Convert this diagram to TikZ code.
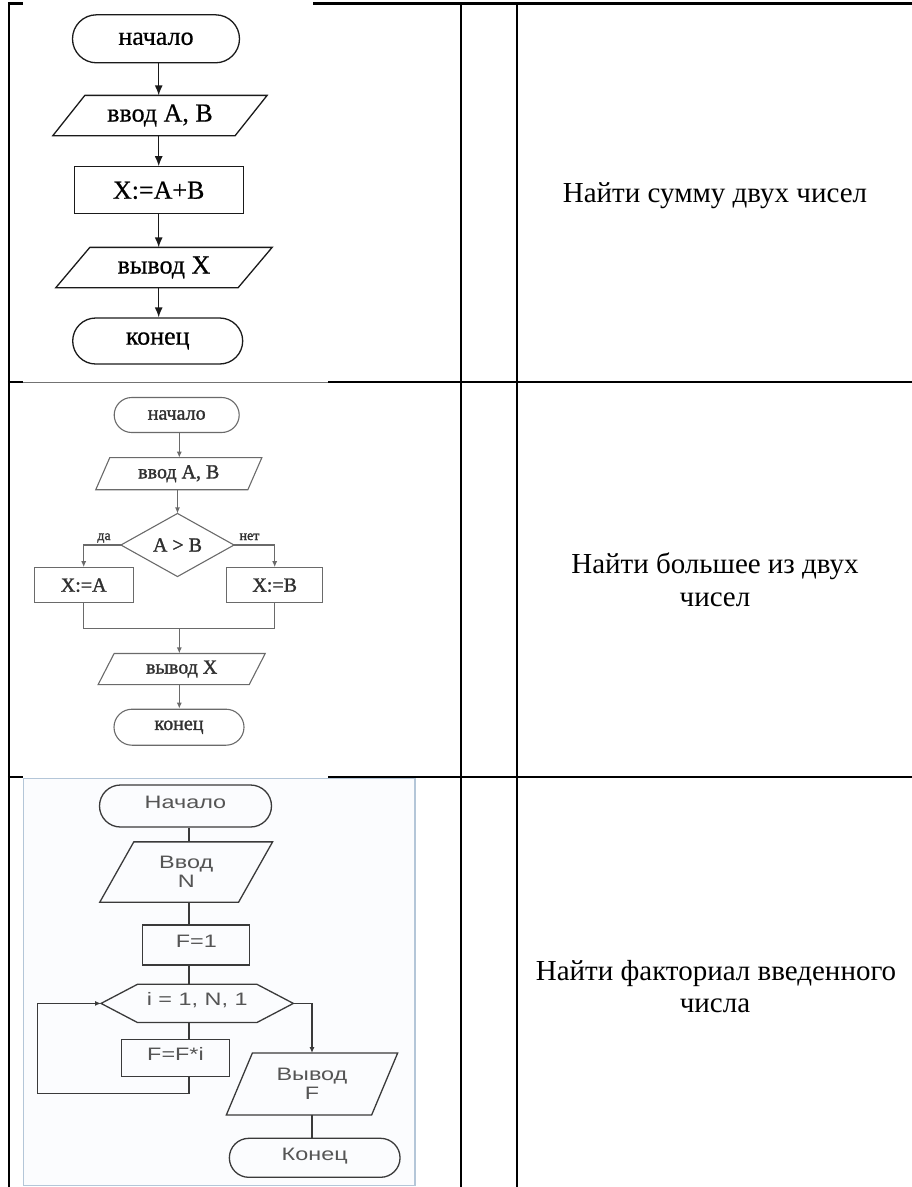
\documentclass[tikz,border=0pt]{standalone}
\usepackage{fontspec}
\setmainfont{Liberation Serif}
\newfontfamily\fcsans[FakeStretch=1.3]{Liberation Sans}
\newfontfamily\fcserifA[FakeBold=0.6]{Liberation Serif}
\newfontfamily\fcserifB[FakeBold=1.4]{Liberation Serif}
\usetikzlibrary{shapes.misc,arrows.meta,calc}
\definecolor{lineA}{HTML}{1A1A1A}
\definecolor{lineB}{HTML}{6A6A6A}
\definecolor{textB}{HTML}{303030}
\definecolor{lineC}{HTML}{3A3A3A}
\definecolor{textC}{HTML}{555555}
\definecolor{imgborder}{HTML}{B4C6D8}
\definecolor{imgfill}{HTML}{FBFCFE}
\newcommand\fcpara[3]{\draw[#3] ([xshift=-#2pt]#1.south west) -- ([xshift=#2pt]#1.north west) -- ([xshift=#2pt]#1.north east) -- ([xshift=-#2pt]#1.south east) -- cycle;}
\begin{document}
\begin{tikzpicture}[x=1pt,y=-1pt,
  tbl/.style={line width=2.2pt,black},
  cell/.style={anchor=base,inner sep=0,font=\fontsize{29}{33}\selectfont},
  boxA/.style={draw=lineA,line width=1.3pt,inner sep=0,font=\fcserifA\fontsize{26}{28}\selectfont},
  shA/.style={draw=lineA,line width=1.3pt},
  arrA/.style={draw=lineA,line width=1.3pt,-{Latex[length=10pt,width=8pt]}},
  boxB/.style={draw=lineB,line width=1.1pt,inner sep=0,text=textB,font=\fcserifB\fontsize{20}{22}\selectfont},
  shB/.style={draw=lineB,line width=1.1pt},
  arrB/.style={draw=lineB,line width=1.1pt,-{Latex[length=6pt,width=5pt]}},
  lblB/.style={anchor=base,inner sep=0,text=textB,font=\fcserifB\fontsize{14}{16}\selectfont},
  boxC/.style={draw=lineC,line width=1.3pt,inner sep=0,text=textC,font=\fcsans\fontsize{18}{19}\selectfont},
  upC/.style={text height=13pt,text depth=8pt},
  shC/.style={draw=lineC,line width=1.3pt},
  arrC/.style={draw=lineC,line width=1.3pt,-{Latex[length=6pt,width=5pt]}}
]
\useasboundingbox (0,0) rectangle (912,1187);

% ---------- table ----------
\draw[tbl] (9,2.4) -- (9,1187);
\draw[tbl] (460.7,2.4) -- (460.7,1187);
\draw[tbl] (516.7,2.4) -- (516.7,1187);
\draw[tbl] (7.9,3.5) -- (23,3.5);
\draw[tbl] (313,3.5) -- (912,3.5);
\draw[tbl] (7.9,382.3) -- (23,382.3);
\draw[line width=1.6pt,black!55] (23,382.3) -- (328,382.3);
\draw[tbl] (328,382.3) -- (912,382.3);
% image of the third flowchart
\draw[draw=imgborder,fill=imgfill,line width=1.4pt] (23.3,778.5) rectangle (415,1185.5);
\draw[tbl] (7.9,777) -- (23,777);
\draw[tbl] (328,777) -- (912,777);

% ---------- right column ----------
\node[cell] (r1) at (715,202.7) {Найти сумму двух чисел};
\node[cell] (r2a) at (715,573) {Найти большее из двух};
\node[cell] (r2b) at (715,606) {чисел};
\node[cell] (r3a) at (716,980) {Найти факториал введенного};
\node[cell] (r3b) at (715,1012) {числа};

% ---------- flowchart 1 ----------
\node[boxA,rounded rectangle,minimum width=167pt,minimum height=48pt] (s1) at (156,38.8) {начало};
\node[boxA,draw=none,minimum width=181pt,minimum height=39pt] (in1) at (160,115.5) {ввод A, B};
\fcpara{in1}{16}{shA}
\node[boxA,minimum width=169pt,minimum height=47pt] (p1) at (158.7,190.3) {X:=A+B};
\node[boxA,draw=none,minimum width=181pt,minimum height=39pt] (out1) at (164,267.5) {вывод X};
\fcpara{out1}{17}{shA}
\node[boxA,rounded rectangle,minimum width=170pt,minimum height=46pt] (e1) at (157.7,341) {конец};
\draw[arrA] (s1.south -| p1.center) -- (in1.north -| p1.center);
\draw[arrA] (in1.south -| p1.center) -- (p1.north);
\draw[arrA] (p1.south) -- (out1.north -| p1.center);
\draw[arrA] (out1.south -| p1.center) -- (e1.north -| p1.center);

% ---------- flowchart 2 ----------
\node[boxB,rounded rectangle,minimum width=125pt,minimum height=35pt] (s2) at (176.7,415) {начало};
\node[boxB,draw=none,minimum width=151pt,minimum height=31pt] (in2) at (178.8,473.7) {ввод A, B};
\fcpara{in2}{7}{shB}
\node[boxB,draw=none,minimum width=112pt,minimum height=62pt] (d2) at (177.5,545) {A > B};
\draw[shB] (d2.north) -- (d2.east) -- (d2.south) -- (d2.west) -- cycle;
\node[boxB,minimum width=99pt,minimum height=35pt] (ra) at (83.7,585.2) {X:=A};
\node[boxB,minimum width=96pt,minimum height=35pt] (rb) at (274.7,585.2) {X:=B};
\coordinate (j2) at (179.3,628.3);
\node[boxB,draw=none,minimum width=150pt,minimum height=30pt] (out2) at (181.7,669) {вывод X};
\fcpara{out2}{8}{shB}
\node[boxB,rounded rectangle,minimum width=130pt,minimum height=36pt] (e2) at (179,727.2) {конец};
\node[lblB] (lda) at (104,540) {да};
\node[lblB] (lnet) at (249.5,540) {нет};
\draw[arrB] (s2.south -| j2) -- (in2.north -| j2);
\draw[arrB] (in2.south -| d2.north) -- (d2.north);
\draw[arrB] (d2.west) -| (ra.north);
\draw[arrB] (d2.east) -| (rb.north);
\draw[shB] (ra.south) |- (j2) -| (rb.south);
\draw[arrB] (j2) -- (out2.north -| j2);
\draw[arrB] (out2.south -| j2) -- (e2.north -| j2);

% ---------- flowchart 3 ----------
\coordinate (cx) at (189,0);
\coordinate (lp) at (37.3,1093.3);
\node[boxC,upC,rounded rectangle,minimum width=172pt,minimum height=42pt] (s3) at (185.5,806) {Начало};
\node[boxC,draw=none,align=center,minimum width=137.5pt,minimum height=59pt] (in3) at (186.2,872) {Ввод\\N};
\fcpara{in3}{17}{shC}
\node[boxC,upC,minimum width=107pt,minimum height=40pt] (f1) at (196.3,945) {F=1};
\node[boxC,upC,draw=none,minimum width=191pt,minimum height=37pt] (hx) at (197.2,1003.4) {i = 1, N, 1};
\draw[shC] ([xshift=36.5pt]hx.north west) -- ([xshift=-36.5pt]hx.north east) -- (hx.east) -- ([xshift=-36.5pt]hx.south east) -- ([xshift=36.5pt]hx.south west) -- (hx.west) -- cycle;
\node[boxC,upC,minimum width=107.6pt,minimum height=37pt] (ffi) at (175.5,1057.7) {F=F*i};
\node[boxC,draw=none,align=center,minimum width=144pt,minimum height=60.6pt] (out3) at (312,1084) {Вывод\\F};
\fcpara{out3}{13}{shC}
\node[boxC,upC,rounded rectangle,minimum width=170.7pt,minimum height=39pt] (e3) at (314.7,1157.8) {Конец};
\draw[shC] (s3.south -| cx) -- (in3.north -| cx);
\draw[shC] (in3.south -| cx) -- (f1.north -| cx);
\draw[shC] (f1.south -| cx) -- (hx.north -| cx);
\draw[shC] (hx.south -| cx) -- (ffi.north -| cx);
\draw[arrC] (ffi.south -| cx) |- (lp) |- (hx.west);
\draw[arrC] (hx.east) -| (out3.north);
\draw[shC] (out3.south) -- (out3.south |- e3.north);
\end{tikzpicture}
\end{document}
